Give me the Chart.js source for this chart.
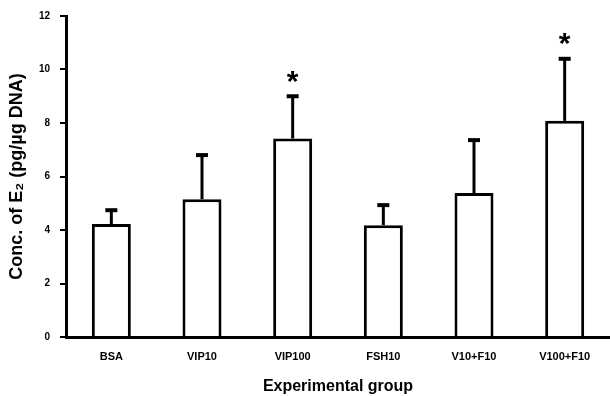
<!DOCTYPE html>
<html lang="en">
    <head>
        <meta charset="UTF-8" />
        <title>Conc. of E2 by experimental group</title>
        <script src="https://cdn.jsdelivr.net/npm/chart.js"></script>
        <style>
            html, body { margin: 0; padding: 0; background: #fff; }
            #wrap { width: 610px; height: 396px; }
        </style>
    </head>
    <body>
        <div id="wrap"><canvas id="chart"></canvas></div>

        <script>
            // data
            const groups = ['BSA', 'VIP10', 'VIP100', 'FSH10', 'V10+F10', 'V100+F10'];
            const meanE2 = [4.22, 5.15, 7.42, 4.18, 5.38, 8.08];
            const errE2 = [0.52, 1.65, 1.58, 0.75, 1.98, 2.32];
            const signif = [false, false, true, false, false, true];
            const yTicks = [0, 2, 4, 6, 8, 10, 12];

            // error bars (upper only) and asterisks
            const errorBars = {
                id: 'errorBars',
                afterDatasetsDraw(chart) {
                    const ctx = chart.ctx;
                    const y = chart.scales.y;
                    const meta = chart.getDatasetMeta(0);
                    ctx.save();
                    ctx.strokeStyle = '#000';
                    ctx.fillStyle = '#000';
                    meta.data.forEach((bar, i) => {
                        const top = y.getPixelForValue(meanE2[i]);
                        const cap = y.getPixelForValue(meanE2[i] + errE2[i]);
                        ctx.lineWidth = 3;
                        ctx.beginPath();
                        ctx.moveTo(bar.x, top);
                        ctx.lineTo(bar.x, cap);
                        ctx.stroke();
                        ctx.lineWidth = 4;
                        ctx.beginPath();
                        ctx.moveTo(bar.x - 6, cap);
                        ctx.lineTo(bar.x + 6, cap);
                        ctx.stroke();
                        if (signif[i]) {
                            ctx.font = 'bold 30px "Liberation Sans", Arial, sans-serif';
                            ctx.textAlign = 'center';
                            ctx.textBaseline = 'middle';
                            ctx.fillText('*', bar.x, cap - 14);
                        }
                    });
                    ctx.restore();
                }
            };

            new Chart(document.getElementById('chart'), {
                type: 'bar',
                data: {
                    labels: groups,
                    datasets: [{
                        data: meanE2,
                        backgroundColor: '#fff',
                        borderColor: '#000',
                        borderWidth: 3,
                        borderSkipped: 'bottom',
                        categoryPercentage: 1,
                        barPercentage: 0.43
                    }]
                },
                options: {
                    responsive: true,
                    maintainAspectRatio: false,
                    animation: false,
                    layout: { padding: { top: 13, right: 0, bottom: 0, left: 0 } },
                    plugins: {
                        legend: { display: false },
                        tooltip: { enabled: false }
                    },
                    scales: {
                        x: {
                            grid: { display: false, drawTicks: false },
                            border: { color: '#000', width: 3 },
                            ticks: {
                                color: '#000',
                                padding: 13,
                                maxRotation: 0,
                                font: { family: '"Liberation Sans", Arial', size: 11, weight: 'bold' }
                            },
                            title: {
                                display: true,
                                text: 'Experimental group',
                                color: '#000',
                                padding: { top: 5, bottom: 0 },
                                font: { family: '"Liberation Sans", Arial', size: 16, weight: 'bold' }
                            },
                            afterFit(scale) { scale.height = 59; }
                        },
                        y: {
                            min: 0,
                            max: 12,
                            afterBuildTicks(scale) {
                                scale.ticks = yTicks.map(v => ({ value: v }));
                            },
                            grid: {
                                drawOnChartArea: false,
                                drawTicks: true,
                                tickLength: 6,
                                lineWidth: 2,
                                color: '#000'
                            },
                            border: { color: '#000', width: 3 },
                            ticks: {
                                color: '#000',
                                padding: 10,
                                font: { family: '"Liberation Sans", Arial', size: 10, weight: 'bold' }
                            },
                            title: {
                                display: true,
                                text: 'Conc. of E\u2082 (pg/\u00b5g DNA)',
                                color: '#000',
                                padding: { top: 6, bottom: 0 },
                                font: { family: '"Liberation Sans", Arial', size: 18, weight: 'bold' }
                            },
                            afterFit(scale) { scale.width = 66; }
                        }
                    }
                },
                plugins: [errorBars]
            });
        </script>
    </body>
</html>
